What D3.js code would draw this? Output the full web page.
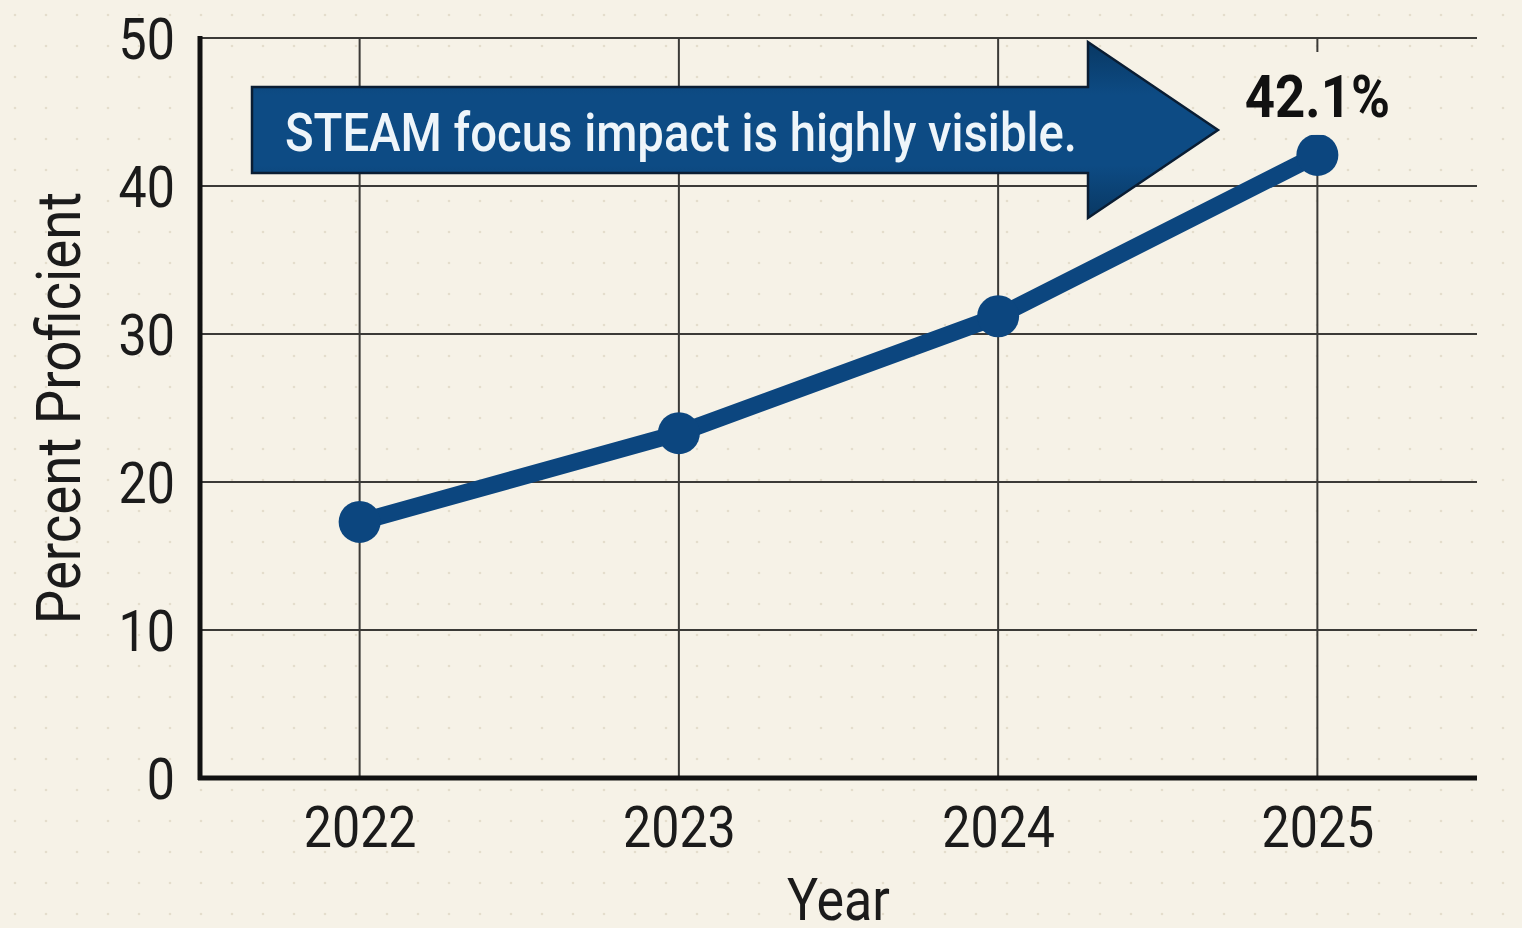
<!DOCTYPE html>
<html>
<head>
<meta charset="utf-8">
<script src="https://cdn.jsdelivr.net/npm/d3@7"></script>
<style>
  html, body { margin: 0; padding: 0; background: #f6f2e7; }
  svg { display: block; }
</style>
</head>
<body>
<script>
// chart data
var years = ["2022", "2023", "2024", "2025"];
var proficient = [17.3, 23.3, 31.2, 42.1];
var yTicks = [0, 10, 20, 30, 40, 50];
var callout = "STEAM focus impact is highly visible.";

var W = 1522, H = 928;
var plotL = 200, plotR = 1477, plotT = 38, plotB = 778;
var navy = "#0c467f";
var squeeze = 0.88; // narrow look of the labels

var svg = d3.select(document.body)
  .append("svg")
  .attr("width", W)
  .attr("height", H);

var defs = svg.append("defs");
var pat = defs.append("pattern")
  .attr("id", "dots")
  .attr("width", 31).attr("height", 31)
  .attr("patternUnits", "userSpaceOnUse");
pat.append("circle").attr("cx", 15).attr("cy", 15).attr("r", 1.3).attr("fill", "#e4ddcc");

var grad = defs.append("linearGradient")
  .attr("id", "arrowFill")
  .attr("x1", 0).attr("y1", 0).attr("x2", 0).attr("y2", 1);
grad.append("stop").attr("offset", "0%").attr("stop-color", "#093863");
grad.append("stop").attr("offset", "30%").attr("stop-color", "#0d4b84");
grad.append("stop").attr("offset", "70%").attr("stop-color", "#0d4b84");
grad.append("stop").attr("offset", "100%").attr("stop-color", "#093863");

svg.append("rect").attr("width", W).attr("height", H).attr("fill", "#f6f2e7");
svg.append("rect").attr("width", W).attr("height", H).attr("fill", "url(#dots)");

var x = d3.scalePoint().domain(years).range([plotL, plotR]).padding(0.5);
var y = d3.scaleLinear().domain([0, 50]).range([plotB, plotT]);

// grid
svg.append("g")
  .selectAll("line.h")
  .data(yTicks.filter(function (d) { return d > 0; }))
  .enter().append("line")
  .attr("x1", plotL).attr("x2", plotR)
  .attr("y1", function (d) { return y(d); })
  .attr("y2", function (d) { return y(d); })
  .attr("stroke", "#3b3a37").attr("stroke-width", 2);

svg.append("g")
  .selectAll("line.v")
  .data(years)
  .enter().append("line")
  .attr("x1", function (d) { return x(d); })
  .attr("x2", function (d) { return x(d); })
  .attr("y1", plotT).attr("y2", plotB)
  .attr("stroke", "#3b3a37").attr("stroke-width", 2);

// axes
var yAxis = svg.append("g")
  .attr("transform", "translate(" + plotL + ",0)")
  .call(d3.axisLeft(y).tickValues(yTicks).tickSize(0).tickPadding(25));
yAxis.select(".domain").remove();
yAxis.selectAll("text")
  .attr("font-family", "Roboto, 'Liberation Sans', sans-serif")
  .attr("font-size", 57)
  .attr("fill", "#1b1b1b")
  .attr("dy", "0.36em")
  .attr("transform", function () {
    var tx = +d3.select(this).attr("x");
    return "translate(" + tx + ",0) scale(" + squeeze + ",1)";
  })
  .attr("x", 0);

var xAxis = svg.append("g")
  .attr("transform", "translate(0," + plotB + ")")
  .call(d3.axisBottom(x).tickSize(0).tickPadding(0));
xAxis.select(".domain").remove();
xAxis.selectAll("text")
  .attr("font-family", "Roboto, 'Liberation Sans', sans-serif")
  .attr("font-size", 57)
  .attr("fill", "#1b1b1b")
  .attr("y", 0)
  .attr("dy", 0)
  .attr("transform", "translate(0,69) scale(" + squeeze + ",1)");

svg.append("line")
  .attr("x1", plotL).attr("x2", plotL)
  .attr("y1", plotT - 2).attr("y2", plotB + 2)
  .attr("stroke", "#111").attr("stroke-width", 5);
svg.append("line")
  .attr("x1", plotL - 2).attr("x2", plotR)
  .attr("y1", plotB).attr("y2", plotB)
  .attr("stroke", "#111").attr("stroke-width", 5);

// axis titles
svg.append("text")
  .attr("transform", "translate(80," + ((plotT + plotB) / 2) + ") rotate(-90) scale(" + squeeze + ",1)")
  .attr("text-anchor", "middle")
  .attr("font-family", "Roboto, 'Liberation Sans', sans-serif")
  .attr("font-size", 62)
  .attr("fill", "#1b1b1b")
  .text("Percent Proficient");

svg.append("text")
  .attr("transform", "translate(" + ((plotL + plotR) / 2) + ",920) scale(" + squeeze + ",1)")
  .attr("text-anchor", "middle")
  .attr("font-family", "Roboto, 'Liberation Sans', sans-serif")
  .attr("font-size", 59)
  .attr("fill", "#1b1b1b")
  .text("Year");

// callout arrow
var bodyL = 252, bodyR = 1088, bodyT = 87, bodyB = 173;
var headT = 42, headB = 218, tipX = 1218;
var midY = (bodyT + bodyB) / 2;
var arrowPts = [
  [bodyL, bodyT], [bodyR, bodyT], [bodyR, headT], [tipX, midY],
  [bodyR, headB], [bodyR, bodyB], [bodyL, bodyB]
];
svg.append("path")
  .attr("d", d3.line()(arrowPts) + "Z")
  .attr("fill", "url(#arrowFill)")
  .attr("stroke", "#0a1d33")
  .attr("stroke-width", 2.5)
  .attr("stroke-linejoin", "miter");

svg.append("text")
  .attr("x", 285).attr("y", 151)
  .attr("font-family", "Roboto, 'Liberation Sans', sans-serif")
  .attr("font-weight", 500)
  .attr("font-size", 54)
  .attr("fill", "#eef5fa")
  .attr("textLength", 792)
  .attr("lengthAdjust", "spacingAndGlyphs")
  .text(callout);

// line and markers
var line = d3.line()
  .x(function (d, i) { return x(years[i]); })
  .y(function (d) { return y(d); });

svg.append("path")
  .datum(proficient)
  .attr("d", line)
  .attr("fill", "none")
  .attr("stroke", navy)
  .attr("stroke-width", 17)
  .attr("stroke-linejoin", "round");

svg.append("g")
  .selectAll("circle")
  .data(proficient)
  .enter().append("circle")
  .attr("cx", function (d, i) { return x(years[i]); })
  .attr("cy", function (d) { return y(d); })
  .attr("r", 21)
  .attr("fill", navy);

// end label
var lastI = proficient.length - 1;
var lx = x(years[lastI]), ly = y(proficient[lastI]);
svg.append("rect")
  .attr("x", lx - 18).attr("y", plotT + 14)
  .attr("width", 36).attr("height", ly - plotT - 34)
  .attr("fill", "#f6f2e7");
svg.append("text")
  .attr("transform", "translate(" + lx + "," + (ly - 38) + ") scale(" + squeeze + ",1)")
  .attr("text-anchor", "middle")
  .attr("font-family", "Roboto, 'Liberation Sans', sans-serif")
  .attr("font-weight", 700)
  .attr("font-size", 60)
  .attr("fill", "#111")
  .text(proficient[lastI].toFixed(1) + "%");
</script>
</body>
</html>
